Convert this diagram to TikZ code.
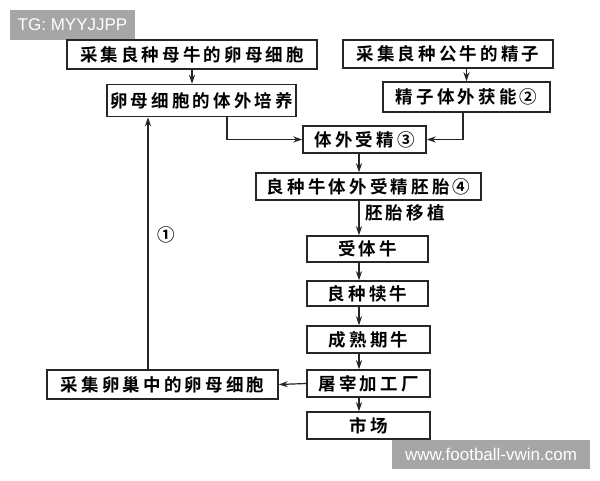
\documentclass[tikz,border=0pt]{standalone}
\usepackage{fontspec}
\setmainfont{Liberation Sans}
\newfontfamily\cjk[LetterSpace=18,BoldFont={Noto Sans CJK SC Bold}]{Noto Sans CJK SC}
\usetikzlibrary{arrows.meta,calc}
\begin{document}
\begin{tikzpicture}[x=1pt,y=-1pt,
  box/.style={draw=black!85,line width=1.5pt,inner sep=0pt,font=\cjk\bfseries\fontsize{17.5}{19}\selectfont},
  arr/.style={line width=1.2pt,draw=black!85,-{Stealth[length=9pt,width=6pt]}},
  lbl/.style={inner sep=0pt,font=\cjk\bfseries\fontsize{17.5}{19}\selectfont},
  wm/.style={fill=black!35,text=white,inner sep=0pt,font=\fontsize{17}{19}\selectfont}]
\useasboundingbox (0,0) rectangle (600,480);
\fill[white] (0,0) rectangle (600,480);
% watermarks
\node[wm,minimum width=125,minimum height=30] (wm1) at (72.5,25) {TG: MYYJJPP};
\node[wm,minimum width=198,minimum height=29] (wm2) at (491,454.5) {www.football-vwin.com};
% boxes
\node[box,minimum width=250,minimum height=29] (b1) at (192,54.5) {采集良种母牛的卵母细胞};
\node[box,minimum width=210,minimum height=28] (b2) at (448,54) {采集良种公牛的精子};
\node[box,minimum width=189,minimum height=32] (b3) at (201.5,100.5) {卵母细胞的体外培养};
\node[box,minimum width=167,minimum height=30] (b4) at (466.5,97) {精子体外获能②};
\node[box,minimum width=123,minimum height=27] (b5) at (364.5,139.5) {体外受精③};
\node[box,minimum width=225,minimum height=27] (b6) at (368.5,186.5) {良种牛体外受精胚胎④};
\node[box,minimum width=121,minimum height=26] (b7) at (367.5,249) {受体牛};
\node[box,minimum width=121,minimum height=25] (b8) at (367.5,293.5) {良种犊牛};
\node[box,minimum width=123,minimum height=27] (b9) at (368.5,339.5) {成熟期牛};
\node[box,minimum width=123,minimum height=27] (b10) at (368.5,383.5) {屠宰加工厂};
\node[box,minimum width=123,minimum height=27] (b11) at (368.5,425.5) {市场};
\node[box,minimum width=231,minimum height=29] (b12) at (162.5,384.5) {采集卵巢中的卵母细胞};
% labels
\node[lbl] (l1) at (166,235) {①};
\node[lbl,anchor=west] (l2) at (365,213) {胚胎移植};
% helper coordinates
\coordinate (sp) at (359,0);
\coordinate (lx) at (148,0);
% connectors
\draw[arr] (b1.south) -- (b1.south |- b3.north);
\draw[arr] (b4.north |- b2.south) -- (b4.north);
\draw[arr] ($(b3.south)+(25.5,0)$) |- (b5.west);
\draw[arr] ($(b4.south)+(-3.5,0)$) |- (b5.east);
\draw[arr] (b5.south -| sp) -- (b6.north -| sp);
\draw[arr] (b6.south -| sp) -- (b7.north -| sp);
\draw[arr] (b7.south -| sp) -- (b8.north -| sp);
\draw[arr] (b8.south -| sp) -- (b9.north -| sp);
\draw[arr] (b9.south -| sp) -- (b10.north -| sp);
\draw[arr] (b10.south -| sp) -- (b11.north -| sp);
\draw[arr] (b10.west) -- (b12.east);
\draw[arr] (b12.north -| lx) -- (b3.south -| lx);
\end{tikzpicture}
\end{document}
